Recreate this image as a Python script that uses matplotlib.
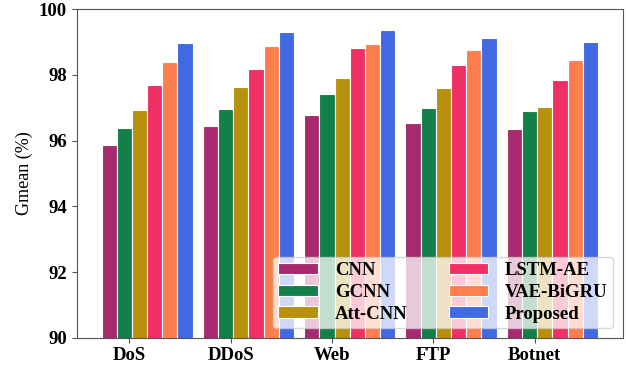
import matplotlib
matplotlib.use("Agg")
import matplotlib.pyplot as plt
import numpy as np

ATTACKS = ["DoS", "DDoS", "Web", "FTP", "Botnet"]
MODELS = ["CNN", "GCNN", "Att-CNN", "LSTM-AE", "VAE-BiGRU", "Proposed"]
COLORS = ["#A82A6E", "#138049", "#B8900C", "#F03064", "#FF7E50", "#4169E1"]

# Gmean (%) per model, one entry per attack type
cnn = [95.88, 96.46, 96.77, 96.55, 96.37]
gcnn = [96.39, 96.97, 97.41, 97.00, 96.89]
att_cnn = [96.93, 97.64, 97.90, 97.61, 97.03]
lstm_ae = [97.68, 98.18, 98.83, 98.31, 97.84]
vae_bigru = [98.39, 98.89, 98.95, 98.77, 98.45]
proposed = [98.97, 99.30, 99.37, 99.14, 98.99]
scores = [cnn, gcnn, att_cnn, lstm_ae, vae_bigru, proposed]

plt.rcParams["font.family"] = ["Liberation Serif", "DejaVu Serif"]

fig = plt.figure(figsize=(6.26, 3.66), dpi=100)
ax = fig.add_axes([0.1225, 0.0773, 0.8723, 0.8973])

x = np.arange(len(ATTACKS))
w = 0.15
for i, (name, vals, c) in enumerate(zip(MODELS, scores, COLORS)):
    ax.bar(x - 0.2 + i * w, vals, w, color=c, edgecolor="white",
           linewidth=0.8, label=name)

ax.set_ylim(90, 100)
ax.set_yticks([90, 92, 94, 96, 98, 100])
ax.set_xticks(x)
ax.set_xticklabels(ATTACKS)
for lab in ax.get_xticklabels() + ax.get_yticklabels():
    lab.set_fontweight("bold")
    lab.set_fontsize(13.5)
ax.set_ylabel("Gmean (%)", fontsize=13)
for s in ax.spines.values():
    s.set_color("#555555")
ax.tick_params(colors="#555555", labelcolor="black")

leg = ax.legend(loc="lower right", ncol=2, prop={"weight": "bold", "size": 13.5},
                handlelength=2.1, handleheight=0.55, handletextpad=0.9,
                columnspacing=2.2, framealpha=0.75, borderaxespad=0.5,
                borderpad=0.3, labelspacing=0.25)

fig.savefig("out.png", dpi=100)
